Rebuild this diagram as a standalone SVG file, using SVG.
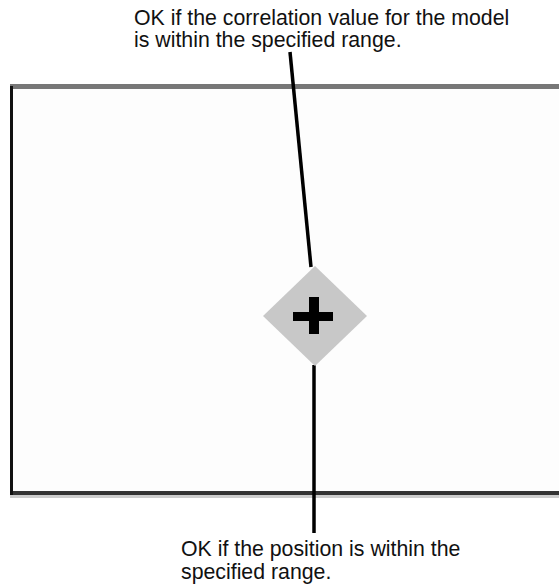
<svg xmlns="http://www.w3.org/2000/svg" width="559" height="588" viewBox="0 0 559 588">
<style>
text{font-family:"Liberation Sans",Arial,sans-serif;font-size:21.3px;fill:#111}
</style>
<rect width="559" height="588" fill="#fff"/>
<g id="frame">
<rect x="10" y="86" width="549" height="408" fill="#fdfdfd"/>
<rect x="10" y="84" width="549" height="5" fill="#777"/>
<rect x="10" y="494" width="549" height="4" fill="#ccc"/>
<rect x="10" y="491" width="549" height="4" fill="#333"/>
<rect x="10" y="86" width="3" height="409" fill="#111"/>
</g>
<g id="connectors" stroke="#000" stroke-width="3.5" fill="none">
<line x1="290" y1="52" x2="311" y2="267"/>
<line x1="314" y1="365" x2="314" y2="533"/>
</g>
<g id="marker">
<polygon points="315,266 367,316 315,366 263,316" fill="#c8c8c8"/>
<rect x="293" y="312" width="40" height="9" fill="#000"/>
<rect x="309" y="297" width="10" height="37" fill="#000"/>
</g>
<g id="label-top">
<text x="134" y="24.5">OK if the correlation value for the model</text>
<text x="134" y="47">is within the specified range.</text>
</g>
<g id="label-bottom">
<text x="181" y="556">OK if the position is within the</text>
<text x="181" y="579">specified range.</text>
</g>
</svg>
